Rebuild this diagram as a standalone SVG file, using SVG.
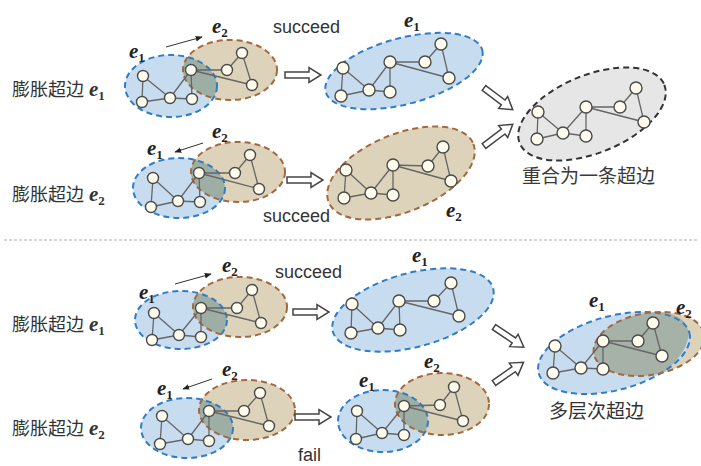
<svg xmlns="http://www.w3.org/2000/svg" width="701" height="466" viewBox="0 0 701 466">
  <style>
    .bg { fill: #ffffff; }
    .bf { fill: #c8dcf0; }
    .tf { fill: #ddd3bb; }
    .ov { fill: #9dafa4; }
    .gf { fill: #e6e6e6; }
    .bs { fill: none; stroke: #2f7dc8; stroke-width: 2; stroke-dasharray: 6 4; }
    .ts { fill: none; stroke: #a5683c; stroke-width: 2; stroke-dasharray: 6 4; }
    .gs { fill: none; stroke: #333333; stroke-width: 2; stroke-dasharray: 6 4; }
    .ed { fill: none; stroke: #666666; stroke-width: 1.3; stroke-linejoin: round; }
    .nd { fill: #fffcee; stroke: #4a4a4a; stroke-width: 1.4; }
    .zh { font-family: "Noto Sans CJK SC", "Noto Sans", sans-serif; font-size: 18px; fill: #333333; }
    .en { font-family: "Liberation Sans", Arial, sans-serif; font-size: 18px; fill: #333333; }
    .lab { font-family: "Liberation Serif", "DejaVu Serif", serif; font-style: italic; font-weight: bold; font-size: 21px; fill: #222222; }
    .lab2 { font-family: "Liberation Serif", "DejaVu Serif", serif; font-style: italic; font-weight: bold; font-size: 21px; fill: #333333; }
    .sub { font-style: normal; font-size: 13px; }
    .thin { stroke: #333333; stroke-width: 1; fill: none; }
    .hol { fill: #ffffff; stroke: #444444; stroke-width: 1.5; stroke-linejoin: miter; }
  </style>
  <defs>
    <marker id="tip" viewBox="0 0 10 10" refX="9" refY="5" markerWidth="7" markerHeight="7" orient="auto" markerUnits="userSpaceOnUse">
      <path d="M0,1 L10,5 L0,9 Z" fill="#222222"/>
    </marker>
    <!-- hollow block arrow pointing right, tail at origin -->
    <path id="harrow" d="M0,-3 L24,-3 L24,-7.5 L36,0 L24,7.5 L24,3 L0,3 Z"/>
    <clipPath id="c1"><ellipse cx="171" cy="86" rx="46" ry="31"/></clipPath>
    <clipPath id="c2"><ellipse cx="179" cy="188" rx="46" ry="30"/></clipPath>
    <clipPath id="c6"><ellipse cx="181" cy="320" rx="46" ry="29"/></clipPath>
    <clipPath id="c8"><ellipse cx="187" cy="428" rx="46" ry="30"/></clipPath>
    <clipPath id="c9"><ellipse cx="383" cy="421" rx="45" ry="31"/></clipPath>
    <clipPath id="c10"><ellipse cx="614" cy="353" rx="78" ry="37" transform="rotate(-15 614 353)"/></clipPath>
  </defs>

  <rect class="bg" x="0" y="0" width="701" height="466"/>

  <!-- section divider -->
  <line x1="4" y1="240" x2="697" y2="240" stroke="#b0b0b0" stroke-width="1.2" stroke-dasharray="3 2"/>

  <!-- row 1: expand e1 -->
  <g id="row1-pair">
    <ellipse class="bf" cx="171" cy="86" rx="46" ry="31"/>
    <ellipse class="tf" cx="230" cy="70" rx="47" ry="30"/>
    <ellipse class="ov" cx="230" cy="70" rx="47" ry="30" clip-path="url(#c1)"/>
    <ellipse class="bs" cx="171" cy="86" rx="46" ry="31"/>
    <ellipse class="ts" cx="230" cy="70" rx="47" ry="30"/>
    <path class="ed" d="M143,76 L142,102 L170,98 Z M170,98 L191,70 L192,99 Z M191,70 L227,70 L242,53 L252,85 Z"/>
    <circle class="nd" cx="143" cy="76" r="5.5"/><circle class="nd" cx="142" cy="102" r="5.5"/>
    <circle class="nd" cx="170" cy="98" r="5.5"/><circle class="nd" cx="192" cy="99" r="5.5"/>
    <circle class="nd" cx="191" cy="70" r="5.5"/><circle class="nd" cx="227" cy="70" r="5.5"/>
    <circle class="nd" cx="242" cy="53" r="5.5"/><circle class="nd" cx="252" cy="85" r="5.5"/>
    <text class="lab" x="129" y="58">e<tspan class="sub" dy="4">1</tspan></text>
    <text class="lab" x="212" y="33">e<tspan class="sub" dy="4">2</tspan></text>
  </g>

  <g id="row1-merged-e1">
    <ellipse class="bf" cx="404" cy="71" rx="81" ry="33" transform="rotate(-15 404 71)"/>
    <ellipse class="bs" cx="404" cy="71" rx="81" ry="33" transform="rotate(-15 404 71)"/>
    <path class="ed" d="M343,68 L341,96 L369,90 Z M369,90 L390,62 L390,92 Z M390,62 L425,62 L441,44 L449,78 Z"/>
    <circle class="nd" cx="343" cy="68" r="6"/><circle class="nd" cx="341" cy="96" r="6"/>
    <circle class="nd" cx="369" cy="90" r="6"/><circle class="nd" cx="390" cy="92" r="6"/>
    <circle class="nd" cx="390" cy="62" r="6"/><circle class="nd" cx="425" cy="62" r="6"/>
    <circle class="nd" cx="441" cy="44" r="6"/><circle class="nd" cx="449" cy="78" r="6"/>
    <text class="lab" x="404" y="27">e<tspan class="sub" dy="4">1</tspan></text>
  </g>

  <!-- row 2: expand e2 -->
  <g id="row2-pair">
    <ellipse class="bf" cx="179" cy="188" rx="46" ry="30"/>
    <ellipse class="tf" cx="238" cy="172" rx="47" ry="30"/>
    <ellipse class="ov" cx="238" cy="172" rx="47" ry="30" clip-path="url(#c2)"/>
    <ellipse class="bs" cx="179" cy="188" rx="46" ry="30"/>
    <ellipse class="ts" cx="238" cy="172" rx="47" ry="30"/>
    <path class="ed" d="M153,178 L151,207 L178,201 Z M178,201 L199,173 L200,202 Z M199,173 L235,173 L250,155 L259,189 Z"/>
    <circle class="nd" cx="153" cy="178" r="5.5"/><circle class="nd" cx="151" cy="207" r="5.5"/>
    <circle class="nd" cx="178" cy="201" r="5.5"/><circle class="nd" cx="200" cy="202" r="5.5"/>
    <circle class="nd" cx="199" cy="173" r="5.5"/><circle class="nd" cx="235" cy="173" r="5.5"/>
    <circle class="nd" cx="250" cy="155" r="5.5"/><circle class="nd" cx="259" cy="189" r="5.5"/>
    <text class="lab" x="147" y="155">e<tspan class="sub" dy="4">1</tspan></text>
    <text class="lab" x="212" y="138">e<tspan class="sub" dy="4">2</tspan></text>
  </g>

  <g id="row2-merged-e2">
    <ellipse class="tf" cx="401" cy="173" rx="78" ry="39" transform="rotate(-22 401 173)"/>
    <ellipse class="ts" cx="401" cy="173" rx="78" ry="39" transform="rotate(-22 401 173)"/>
    <path class="ed" d="M346,170 L344,198 L371,193 Z M371,193 L393,165 L393,195 Z M393,165 L428,166 L443,147 L451,181 Z"/>
    <circle class="nd" cx="346" cy="170" r="6"/><circle class="nd" cx="344" cy="198" r="6"/>
    <circle class="nd" cx="371" cy="193" r="6"/><circle class="nd" cx="393" cy="195" r="6"/>
    <circle class="nd" cx="393" cy="165" r="6"/><circle class="nd" cx="428" cy="166" r="6"/>
    <circle class="nd" cx="443" cy="147" r="6"/><circle class="nd" cx="451" cy="181" r="6"/>
    <text class="lab" x="446" y="217">e<tspan class="sub" dy="4">2</tspan></text>
  </g>

  <!-- coincident result -->
  <g id="merged-single">
    <ellipse class="gf" cx="592" cy="114" rx="78" ry="39" transform="rotate(-22 592 114)"/>
    <ellipse class="gs" cx="592" cy="114" rx="78" ry="39" transform="rotate(-22 592 114)"/>
    <path class="ed" d="M538,112 L537,139 L563,133 Z M563,133 L586,107 L586,136 Z M586,107 L620,107 L636,88 L644,122 Z"/>
    <circle class="nd" cx="538" cy="112" r="6"/><circle class="nd" cx="537" cy="139" r="6"/>
    <circle class="nd" cx="563" cy="133" r="6"/><circle class="nd" cx="586" cy="136" r="6"/>
    <circle class="nd" cx="586" cy="107" r="6"/><circle class="nd" cx="620" cy="107" r="6"/>
    <circle class="nd" cx="636" cy="88" r="6"/><circle class="nd" cx="644" cy="122" r="6"/>
    <text class="zh" x="522" y="183" style="font-size:19px;fill:#3a3a3a">重合为一条超边</text>
  </g>

  <!-- row 3: expand e1 -->
  <g id="row3-pair">
    <ellipse class="bf" cx="181" cy="320" rx="46" ry="29"/>
    <ellipse class="tf" cx="240" cy="307" rx="47" ry="30"/>
    <ellipse class="ov" cx="240" cy="307" rx="47" ry="30" clip-path="url(#c6)"/>
    <ellipse class="bs" cx="181" cy="320" rx="46" ry="29"/>
    <ellipse class="ts" cx="240" cy="307" rx="47" ry="30"/>
    <path class="ed" d="M154,313 L152,340 L179,335 Z M179,335 L201,308 L201,337 Z M201,308 L237,308 L252,290 L261,323 Z"/>
    <circle class="nd" cx="154" cy="313" r="5.5"/><circle class="nd" cx="152" cy="340" r="5.5"/>
    <circle class="nd" cx="179" cy="335" r="5.5"/><circle class="nd" cx="201" cy="337" r="5.5"/>
    <circle class="nd" cx="201" cy="308" r="5.5"/><circle class="nd" cx="237" cy="308" r="5.5"/>
    <circle class="nd" cx="252" cy="290" r="5.5"/><circle class="nd" cx="261" cy="323" r="5.5"/>
    <text class="lab" x="139" y="299">e<tspan class="sub" dy="4">1</tspan></text>
    <text class="lab" x="222" y="272">e<tspan class="sub" dy="4">2</tspan></text>
  </g>

  <g id="row3-merged-e1">
    <ellipse class="bf" cx="413" cy="310" rx="83" ry="37" transform="rotate(-15 413 310)"/>
    <ellipse class="bs" cx="413" cy="310" rx="83" ry="37" transform="rotate(-15 413 310)"/>
    <path class="ed" d="M352,304 L351,333 L378,328 Z M378,328 L399,301 L400,330 Z M399,301 L434,301 L451,283 L459,316 Z"/>
    <circle class="nd" cx="352" cy="304" r="6"/><circle class="nd" cx="351" cy="333" r="6"/>
    <circle class="nd" cx="378" cy="328" r="6"/><circle class="nd" cx="400" cy="330" r="6"/>
    <circle class="nd" cx="399" cy="301" r="6"/><circle class="nd" cx="434" cy="301" r="6"/>
    <circle class="nd" cx="451" cy="283" r="6"/><circle class="nd" cx="459" cy="316" r="6"/>
    <text class="lab" x="412" y="262">e<tspan class="sub" dy="4">1</tspan></text>
  </g>

  <!-- row 4: expand e2 -->
  <g id="row4-pair">
    <ellipse class="bf" cx="187" cy="428" rx="46" ry="30"/>
    <ellipse class="tf" cx="247" cy="410" rx="48" ry="30"/>
    <ellipse class="ov" cx="247" cy="410" rx="48" ry="30" clip-path="url(#c8)"/>
    <ellipse class="bs" cx="187" cy="428" rx="46" ry="30"/>
    <ellipse class="ts" cx="247" cy="410" rx="48" ry="30"/>
    <path class="ed" d="M162,416 L160,444 L188,439 Z M188,439 L209,411 L209,441 Z M209,411 L244,411 L260,393 L269,426 Z"/>
    <circle class="nd" cx="162" cy="416" r="5.5"/><circle class="nd" cx="160" cy="444" r="5.5"/>
    <circle class="nd" cx="188" cy="439" r="5.5"/><circle class="nd" cx="209" cy="441" r="5.5"/>
    <circle class="nd" cx="209" cy="411" r="5.5"/><circle class="nd" cx="244" cy="411" r="5.5"/>
    <circle class="nd" cx="260" cy="393" r="5.5"/><circle class="nd" cx="269" cy="426" r="5.5"/>
    <text class="lab" x="157" y="395">e<tspan class="sub" dy="4">1</tspan></text>
    <text class="lab" x="222" y="376">e<tspan class="sub" dy="4">2</tspan></text>
  </g>

  <g id="row4-failed">
    <ellipse class="bf" cx="383" cy="421" rx="45" ry="31"/>
    <ellipse class="tf" cx="442" cy="404" rx="47" ry="31"/>
    <ellipse class="ov" cx="442" cy="404" rx="47" ry="31" clip-path="url(#c9)"/>
    <ellipse class="bs" cx="383" cy="421" rx="45" ry="31"/>
    <ellipse class="ts" cx="442" cy="404" rx="47" ry="31"/>
    <path class="ed" d="M357,411 L356,439 L382,433 Z M382,433 L404,406 L404,435 Z M404,406 L440,405 L454,387 L463,421 Z"/>
    <circle class="nd" cx="357" cy="411" r="5.5"/><circle class="nd" cx="356" cy="439" r="5.5"/>
    <circle class="nd" cx="382" cy="433" r="5.5"/><circle class="nd" cx="404" cy="435" r="5.5"/>
    <circle class="nd" cx="404" cy="406" r="5.5"/><circle class="nd" cx="440" cy="405" r="5.5"/>
    <circle class="nd" cx="454" cy="387" r="5.5"/><circle class="nd" cx="463" cy="421" r="5.5"/>
    <text class="lab" x="359" y="387">e<tspan class="sub" dy="4">1</tspan></text>
    <text class="lab" x="424" y="368">e<tspan class="sub" dy="4">2</tspan></text>
  </g>

  <!-- multi-level result -->
  <g id="multi-level">
    <ellipse class="tf" cx="649" cy="344" rx="56" ry="31" transform="rotate(-10 649 344)"/>
    <ellipse class="bf" cx="614" cy="353" rx="78" ry="37" transform="rotate(-15 614 353)"/>
    <ellipse class="ov" cx="649" cy="344" rx="56" ry="31" transform="rotate(-10 649 344)" clip-path="url(#c10)" style="fill:#a6b2a8"/>
    <ellipse class="bs" cx="614" cy="353" rx="78" ry="37" transform="rotate(-15 614 353)"/>
    <ellipse class="ts" cx="649" cy="344" rx="56" ry="31" transform="rotate(-10 649 344)"/>
    <path class="ed" d="M555,346 L553,373 L581,368 Z M581,368 L603,341 L603,369 Z M603,341 L638,341 L653,323 L662,356 Z"/>
    <circle class="nd" cx="555" cy="346" r="6"/><circle class="nd" cx="553" cy="373" r="6"/>
    <circle class="nd" cx="581" cy="368" r="6"/><circle class="nd" cx="603" cy="369" r="6"/>
    <circle class="nd" cx="603" cy="341" r="6"/><circle class="nd" cx="638" cy="341" r="6"/>
    <circle class="nd" cx="653" cy="323" r="6"/><circle class="nd" cx="662" cy="356" r="6"/>
    <text class="lab" x="589" y="307">e<tspan class="sub" dy="4">1</tspan></text>
    <text class="lab" x="676" y="314">e<tspan class="sub" dy="4">2</tspan></text>
    <text class="zh" x="549" y="418" style="font-size:19px">多层次超边</text>
  </g>

  <!-- row captions -->
  <g id="captions">
    <text class="zh" x="12" y="96">膨胀超边<tspan class="lab2" dx="5">e</tspan><tspan class="lab2 sub" dy="4">1</tspan></text>
    <text class="zh" x="12" y="201">膨胀超边<tspan class="lab2" dx="5">e</tspan><tspan class="lab2 sub" dy="4">2</tspan></text>
    <text class="zh" x="12" y="331">膨胀超边<tspan class="lab2" dx="5">e</tspan><tspan class="lab2 sub" dy="4">1</tspan></text>
    <text class="zh" x="12" y="435">膨胀超边<tspan class="lab2" dx="5">e</tspan><tspan class="lab2 sub" dy="4">2</tspan></text>
    <text class="en" x="273" y="33">succeed</text>
    <text class="en" x="263" y="222">succeed</text>
    <text class="en" x="275" y="278">succeed</text>
    <text class="en" x="298" y="461">fail</text>
  </g>

  <!-- connectors -->
  <g id="connectors">
    <line class="thin" x1="166" y1="47" x2="202" y2="37" marker-end="url(#tip)"/>
    <line class="thin" x1="203" y1="143" x2="175" y2="152" marker-end="url(#tip)"/>
    <line class="thin" x1="175" y1="284" x2="211" y2="274" marker-end="url(#tip)"/>
    <line class="thin" x1="212" y1="379" x2="183" y2="389" marker-end="url(#tip)"/>

    <use href="#harrow" class="hol" transform="translate(285 75)"/>
    <use href="#harrow" class="hol" transform="translate(287 180)"/>
    <use href="#harrow" class="hol" transform="translate(293 312)"/>
    <use href="#harrow" class="hol" transform="translate(295 417)"/>

    <use href="#harrow" class="hol" transform="translate(484 88) rotate(37)"/>
    <use href="#harrow" class="hol" transform="translate(484 146) rotate(-37)"/>
    <use href="#harrow" class="hol" transform="translate(494 327) rotate(34)"/>
    <use href="#harrow" class="hol" transform="translate(494 383) rotate(-35)"/>
  </g>
</svg>
